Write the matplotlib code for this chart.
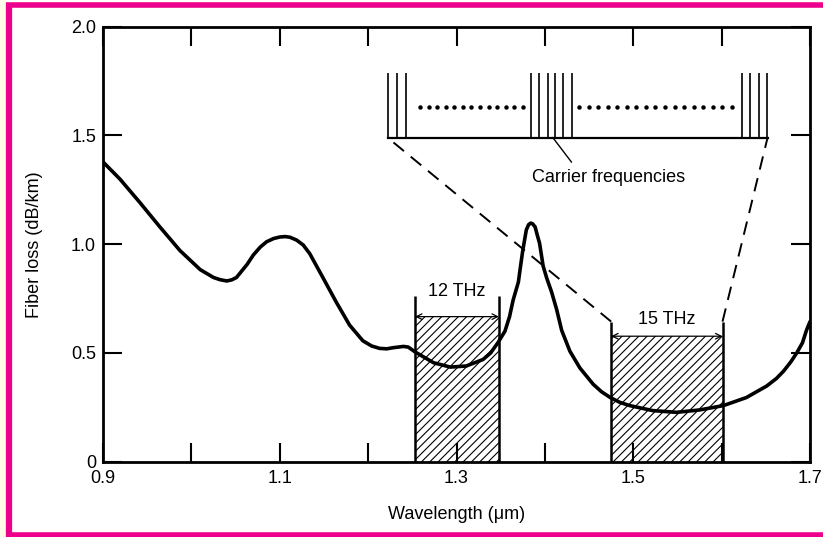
# Fiber loss vs wavelength with WDM bands and carrier-frequency inset
import numpy as np
import matplotlib.pyplot as plt
from matplotlib.patches import Rectangle
from matplotlib.lines import Line2D

plt.rcParams['font.family'] = ['Liberation Sans', 'DejaVu Sans']
plt.rcParams['hatch.linewidth'] = 0.8

# -------- Data --------
wavelength = [0.900, 0.919, 0.942, 0.964, 0.987, 1.010, 1.025, 1.0323, 1.040, 1.0456,
              1.051, 1.063, 1.070, 1.078, 1.085, 1.093, 1.100, 1.106, 1.1115, 1.119,
              1.1266, 1.134, 1.149, 1.164, 1.179, 1.194, 1.204, 1.213, 1.221, 1.228,
              1.240, 1.2454, 1.253, 1.274, 1.293, 1.311, 1.330, 1.3386, 1.347, 1.3548,
              1.360, 1.364, 1.370, 1.3725, 1.375, 1.379, 1.3816, 1.384, 1.386, 1.389,
              1.3913, 1.394, 1.398, 1.402, 1.4076, 1.4133, 1.419, 1.4283, 1.4396, 1.4547,
              1.464, 1.474, 1.4848, 1.496, 1.522, 1.549, 1.575, 1.602, 1.628, 1.651,
              1.6621, 1.670, 1.6783, 1.685, 1.6915, 1.696, 1.700]
loss = [1.378, 1.300, 1.190, 1.081, 0.971, 0.883, 0.847, 0.837, 0.831, 0.836,
        0.847, 0.907, 0.950, 0.987, 1.011, 1.026, 1.033, 1.035, 1.032, 1.019,
        0.996, 0.956, 0.845, 0.733, 0.628, 0.556, 0.532, 0.521, 0.519, 0.524,
        0.530, 0.527, 0.505, 0.455, 0.435, 0.440, 0.470, 0.500, 0.548, 0.600,
        0.667, 0.742, 0.826, 0.900, 0.972, 1.066, 1.090, 1.097, 1.094, 1.079,
        1.043, 1.004, 0.900, 0.845, 0.780, 0.700, 0.604, 0.508, 0.431, 0.356,
        0.322, 0.295, 0.273, 0.258, 0.235, 0.227, 0.238, 0.258, 0.295, 0.348,
        0.383, 0.416, 0.459, 0.500, 0.547, 0.604, 0.644]

band_left = [1.253, 1.475]
band_right = [1.348, 1.601]
band_height = [0.667, 0.577]
band_marker_top = [0.76, 0.644]
band_labels = ['12 THz', '15 THz']
band_label_y = [0.783, 0.655]

# inset: carrier frequency lines
inset_left = 1.222
inset_right = 1.652
inset_base = 1.49
inset_top = 1.788
carriers = [1.2227, 1.2322, 1.2424,
            1.3838, 1.3935, 1.4031, 1.4113, 1.4200, 1.4302,
            1.6232, 1.6319, 1.6421, 1.6519]
dot_row_y = 1.632
dot_rows = [(1.2586, 1.3751, 13), (1.4388, 1.6115, 17)]

x_major = [0.9, 1.1, 1.3, 1.5, 1.7]
x_minor = [1.0, 1.2, 1.4, 1.6]
y_ticks = [0, 0.5, 1.0, 1.5, 2.0]
y_ticklabels = ['0', '0.5', '1.0', '1.5', '2.0']

FS = 13

# -------- Figure --------
fig = plt.figure(figsize=(8.23, 5.37), dpi=100)
ax = fig.add_axes([0.1252, 0.1402, 0.859, 0.8101])

# hatched bands
for i in range(2):
    ax.bar(band_left[i], band_height[i], band_right[i] - band_left[i], align='edge',
           fill=False, hatch='////', linewidth=0, edgecolor='black', zorder=1)
    ax.vlines([band_left[i], band_right[i]], 0, band_marker_top[i], color='black', lw=1.8, zorder=2)
    ax.annotate('', xy=(band_right[i], band_height[i]), xytext=(band_left[i], band_height[i]),
                arrowprops=dict(arrowstyle='<->', lw=0.9, color='black',
                                shrinkA=0, shrinkB=0, mutation_scale=10), zorder=2)
    ax.text((band_left[i] + band_right[i]) / 2, band_label_y[i], band_labels[i],
            ha='center', va='center', fontsize=FS)

# loss curve
ax.plot(wavelength, loss, color='black', lw=2.6, solid_joinstyle='round',
        solid_capstyle='round', zorder=4)

# dashed lines from band 2 up to the inset
ax.plot([band_left[1], inset_left], [band_marker_top[1], inset_base],
        color='black', lw=1.4, linestyle=(0, (7, 4.5)), zorder=3)
ax.plot([band_right[1], inset_right], [band_marker_top[1], inset_base],
        color='black', lw=1.4, linestyle=(0, (7, 4.5)), zorder=3)

# inset
ax.plot([inset_left, inset_right], [inset_base, inset_base], color='black', lw=1.6)
ax.vlines(carriers, inset_base, inset_top, color='black', lw=1.2)
for x0, x1, n in dot_rows:
    ax.plot(np.linspace(x0, x1, n), [dot_row_y] * n, linestyle='none',
            marker='o', markersize=2.2, color='black')
ax.plot([1.409, 1.430], [inset_base, 1.378], color='black', lw=1.0)
ax.text(1.472, 1.308, 'Carrier frequencies', ha='center', va='center', fontsize=FS)

# axes
ax.set_xlim(0.9, 1.7)
ax.set_ylim(0, 2.0)
ax.set_xticks(x_major)
ax.set_xticklabels([str(v) for v in x_major])
ax.set_xticks(x_minor, minor=True)
ax.set_yticks(y_ticks)
ax.set_yticklabels(y_ticklabels)
ax.tick_params(which='both', direction='in', length=14, width=1.5,
               top=True, right=True, labelsize=FS)
ax.tick_params(axis='x', pad=6)
ax.tick_params(axis='y', pad=5)
for s in ax.spines.values():
    s.set_linewidth(2.0)
ax.set_xlabel('Wavelength (\u03bcm)', fontsize=FS, labelpad=14)
ax.set_ylabel('Fiber loss (dB/km)', fontsize=FS, labelpad=20)

# pink frame (top, left, bottom; right edge runs off the image)
W, H = 823, 537
fig.patches.append(Rectangle((0, 0), 6 / W, 1, transform=fig.transFigure,
                             facecolor='#fffbe6', edgecolor='none', zorder=0))
pink = '#ec008c'
fig.lines.append(Line2D([8.5 / W, 8.5 / W], [0, 1 - 3 / H], transform=fig.transFigure,
                        color=pink, lw=4.5, solid_capstyle='butt'))
fig.lines.append(Line2D([6 / W, 1], [1 - 5 / H, 1 - 5 / H], transform=fig.transFigure,
                        color=pink, lw=4.0, solid_capstyle='butt'))
fig.lines.append(Line2D([6 / W, 1], [2.5 / H, 2.5 / H], transform=fig.transFigure,
                        color=pink, lw=4.0, solid_capstyle='butt'))

fig.savefig('out.png', dpi=100)
